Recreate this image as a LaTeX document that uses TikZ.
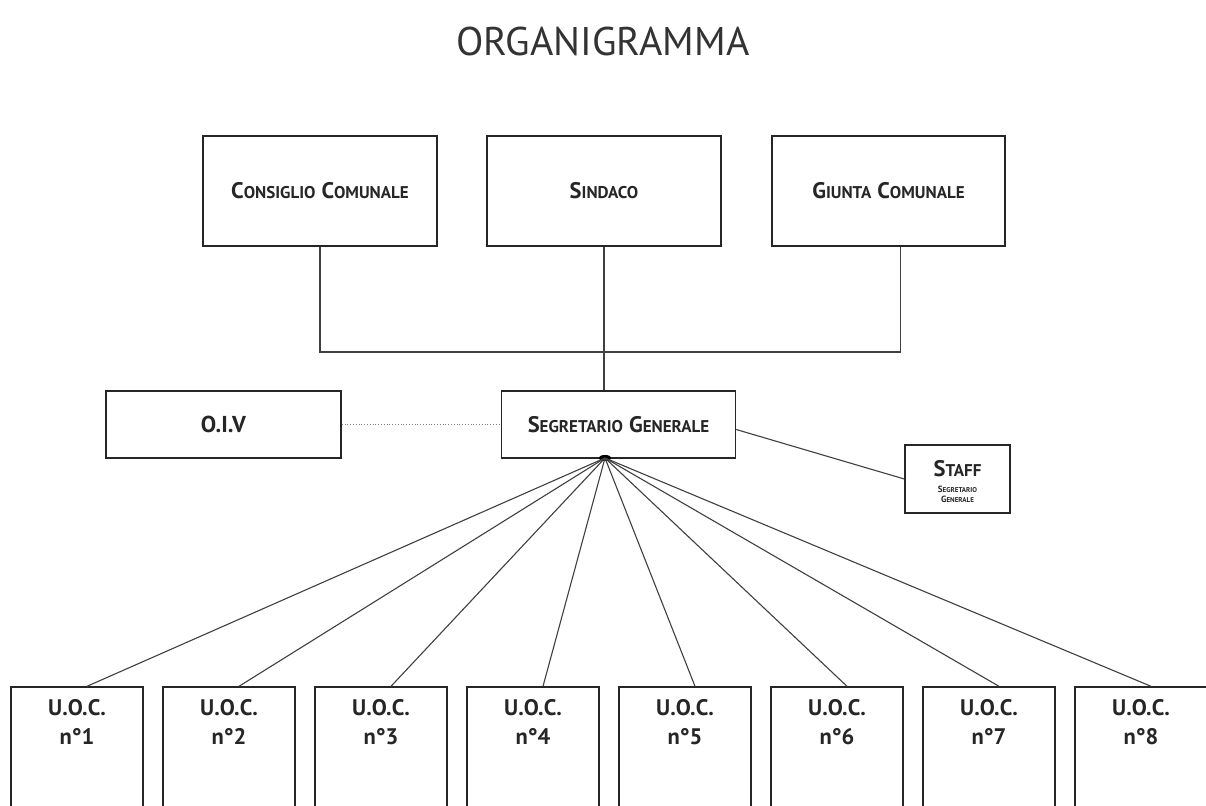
\documentclass[tikz,border=0pt]{standalone}
\usepackage{fontspec}
\setmainfont{PT Sans}
\usetikzlibrary{shapes.geometric,calc}
\definecolor{boxc}{gray}{0.15}
\definecolor{linec}{gray}{0.25}
\newcommand\SC[2]{{\fontsize{22.5}{22.5}\selectfont #1}{\fontsize{17}{17}\selectfont #2}}
\newcommand\SCs[2]{{\fontsize{9}{9}\selectfont #1}{\fontsize{7}{7}\selectfont #2}}
\newcommand\SP{\hspace{6pt}}
\begin{document}
\begin{tikzpicture}[x=1pt,y=-1pt,
  box/.style={draw=boxc,line width=1.4pt,rectangle,inner sep=0pt,align=center,text=black!85,font=\bfseries},
  conn/.style={draw=linec,line width=1.1pt},
  uoc/.style={box,minimum width=132,minimum height=140},
  uoclab/.style={align=center,font=\bfseries\fontsize{22.5}{29}\selectfont,text=black!85,anchor=north}]
\clip (0,0) rectangle (1206,805);
\fill[white] (0,0) rectangle (1206,805);
\node[font=\fontsize{40}{40}\selectfont,text=black!80] (title) at (603,42) {ORGANIGRAMMA};
\node[box,minimum width=234,minimum height=110] (cc) at (320,191) {\SC{C}{ONSIGLIO}\SP\SC{C}{OMUNALE}};
\node[box,minimum width=234,minimum height=110] (sd) at (604,191) {\SC{S}{INDACO}};
\node[box,minimum width=233,minimum height=110] (gc) at (888.5,191) {\SC{G}{IUNTA}\SP\SC{C}{OMUNALE}};
\node[box,minimum width=234,minimum height=67] (sg) at (618.5,424.5) {\SC{S}{EGRETARIO}\SP\SC{G}{ENERALE}};
\node[box,minimum width=235,minimum height=67] (oiv) at (223.5,424.5) {\fontsize{23}{23}\selectfont\bfseries O.I.V};
\node[box,minimum width=105,minimum height=68] (st) at (957.5,479) {};
\node[align=center,text=black!85,font=\bfseries] (stt) at (957.5,469) {\SC{S}{TAFF}};
\node[align=center,text=black!85,font=\bfseries] (sts) at (957.5,494) {\SCs{S}{EGRETARIO}\\[-2pt]\SCs{G}{ENERALE}};
\coordinate (bar) at (604,352);
\draw[conn] (cc.south) |- (bar) -| ($(gc.south)+(12,0)$);
\draw[conn] (sd.south) -- (sd.south |- sg.north);
\draw[draw=gray,line width=0.8pt,dotted] (oiv.east) -- (sg.west);
\draw[conn] (sg.east) ++(0,5) -- (st.west);
\node[ellipse,fill=black,inner sep=0pt,minimum width=13,minimum height=6] (hub) at (605,458) {};
\foreach \i in {1,...,8}{
  \node[uoc] (u\i) at ({77+152*(\i-1)},757) {};
  \node[uoclab] (l\i) at ($(u\i.north)+(0,10)$) {U.O.C.\\n°\i};
  \draw[conn] (hub.center) -- ($(u\i.north)+(10,0)$);
}
\end{tikzpicture}
\end{document}
